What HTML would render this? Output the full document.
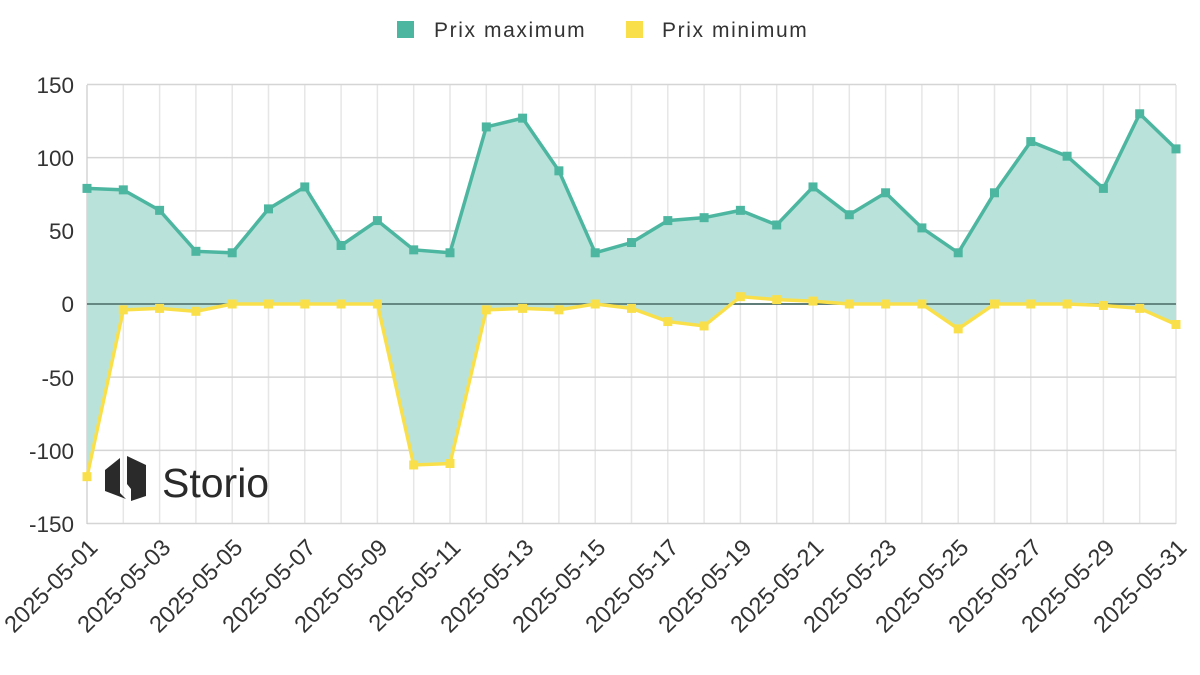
<!DOCTYPE html>
<html><head><meta charset="utf-8"><style>
html,body{margin:0;padding:0;background:#fff;width:1200px;height:675px;overflow:hidden}
svg text{font-family:"Liberation Sans",sans-serif;fill:#333}
</style></head><body>
<svg id="s" width="1200" height="675" viewBox="0 0 1200 675">
<g id="grid"></g>
<g id="data"></g>
<g font-size="22.5" text-anchor="end">
<text x="74" y="93">150</text>
<text x="74" y="166">100</text>
<text x="74" y="239">50</text>
<text x="74" y="312">0</text>
<text x="74" y="386">-50</text>
<text x="74" y="459">-100</text>
<text x="74" y="532">-150</text>
</g>
<g font-size="23.5" text-anchor="end">
<text transform="translate(99,549) rotate(-45)">2025-05-01</text>
<text transform="translate(172,549) rotate(-45)">2025-05-03</text>
<text transform="translate(244,549) rotate(-45)">2025-05-05</text>
<text transform="translate(317,549) rotate(-45)">2025-05-07</text>
<text transform="translate(389,549) rotate(-45)">2025-05-09</text>
<text transform="translate(462,549) rotate(-45)">2025-05-11</text>
<text transform="translate(535,549) rotate(-45)">2025-05-13</text>
<text transform="translate(607,549) rotate(-45)">2025-05-15</text>
<text transform="translate(680,549) rotate(-45)">2025-05-17</text>
<text transform="translate(753,549) rotate(-45)">2025-05-19</text>
<text transform="translate(825,549) rotate(-45)">2025-05-21</text>
<text transform="translate(898,549) rotate(-45)">2025-05-23</text>
<text transform="translate(970,549) rotate(-45)">2025-05-25</text>
<text transform="translate(1043,549) rotate(-45)">2025-05-27</text>
<text transform="translate(1116,549) rotate(-45)">2025-05-29</text>
<text transform="translate(1188,549) rotate(-45)">2025-05-31</text>
</g>
<rect x="397" y="21" width="17" height="17" fill="#4db6a0"/>
<text x="434" y="37" font-size="21" letter-spacing="1.6">Prix maximum</text>
<rect x="626" y="21" width="17" height="17" fill="#f9e04b"/>
<text x="662" y="37" font-size="21" letter-spacing="1.6">Prix minimum</text>
<g fill="#2a2a2a">
<polygon points="105,470 120,458 120,493 126,499 105,491"/>
<polygon points="127,456 146,465 146,496 131,501 131,489 127,484"/>
</g>
<text x="162" y="497" font-size="41" style="fill:#2a2a2a">Storio</text>
</svg>
<script>
var mx=[79,78,64,36,35,65,80,40,57,37,35,121,127,91,35,42,57,59,64,54,80,61,76,52,35,76,111,101,79,130,106];
var mn=[-118,-4,-3,-5,0,0,0,0,0,-110,-109,-4,-3,-4,0,-3,-12,-15,5,3,2,0,0,0,-17,0,0,0,-1,-3,-14];
var x0=87,x1=1176,step=(x1-x0)/30;
function X(i){return x0+i*step}function Y(v){return 304-v*1.4633}
var g='',d='';
for(var i=0;i<=30;i++)g+='<line x1="'+X(i)+'" x2="'+X(i)+'" y1="85" y2="524" stroke="#e6e6e6" stroke-width="1.5"/>';
for(var v=-150;v<=150;v+=50)g+='<line x1="'+x0+'" x2="'+x1+'" y1="'+Y(v)+'" y2="'+Y(v)+'" stroke="'+(v==0?'#4a6b66':'#d5d5d5')+'" stroke-width="1.5"/>';
g+='<line x1="'+x0+'" x2="'+x0+'" y1="85" y2="524" stroke="#ccc"/>';
var pa=[],pb=[];
for(i=0;i<31;i++){pa.push(X(i)+','+Y(mx[i]));pb.push(X(i)+','+Y(mn[i]));}
d+='<polygon points="'+pa.join(' ')+' '+pb.slice().reverse().join(' ')+'" fill="#b9e3da"/>';
d+='<line x1="'+x0+'" x2="'+x1+'" y1="'+Y(0)+'" y2="'+Y(0)+'" stroke="#4a6b66" stroke-width="1.5"/>';
d+='<polyline points="'+pa.join(' ')+'" fill="none" stroke="#4db6a0" stroke-width="3.5"/>';
d+='<polyline points="'+pb.join(' ')+'" fill="none" stroke="#f9e04b" stroke-width="3.5"/>';
for(i=0;i<31;i++){d+='<rect x="'+(X(i)-4.5)+'" y="'+(Y(mx[i])-4.5)+'" width="9" height="9" fill="#4db6a0"/>';d+='<rect x="'+(X(i)-4.5)+'" y="'+(Y(mn[i])-4.5)+'" width="9" height="9" fill="#f9e04b"/>';}
document.getElementById('grid').innerHTML=g;document.getElementById('data').innerHTML=d;
</script>
</body></html>
